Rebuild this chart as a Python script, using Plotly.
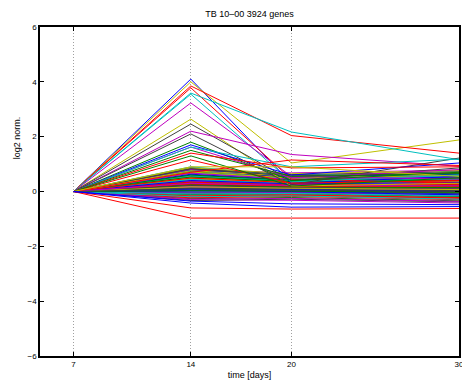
import plotly.graph_objects as go

# time points (days)
days = [7, 14, 20, 30]

# Prominent (large response) genes: log2 norm. values at days 14, 20, 30 (day 7 = 0)
hi14 = [4.10, 4.00, 3.85, 3.78, 3.59, 3.55, 3.23, 2.64, 2.46, 2.20, 2.10, 1.80, 1.70, 1.62, 1.62, 1.50, 1.40, 0.70, 1.15, 1.30, 0.90, -0.97, -0.60, -0.42, -0.35]
hi20 = [0.30, 1.04, 2.04, 0.45, 2.17, 0.35, 0.55, 0.20, 0.40, 1.35, 0.25, 0.40, 0.60, 0.50, 0.90, 0.55, 0.86, 1.15, 0.30, 0.20, 0.90, -0.97, -0.64, -0.57, -0.45]
hi30 = [0.55, 1.88, 1.40, 0.30, 1.16, 0.60, 0.45, 0.30, 0.86, 0.92, 1.22, 0.70, 1.04, 0.80, 1.18, 0.65, 0.90, 0.95, 0.40, 0.50, 0.55, -0.97, -0.62, -0.55, -0.48]
hi_colors = ["b", "y", "r", "r", "c", "c", "m", "y", "k", "m", "k", "g", "b", "m", "c", "g", "r", "r", "r", "g", "y", "r", "r", "b", "b"]

# Background band of genes
bg14 = [0.88, 0.12, -0.21, 0.45, 0.82, 0.33, 0.05, 0.61, -0.08, 0.27, 0.74, -0.30,
        0.18, 0.52, 0.02, 0.85, 0.39, -0.14, 0.66, 0.24, 0.09, 0.79, -0.26, 0.48,
        0.14, 0.57, -0.04, 0.31, 0.70, 0.21, -0.18, 0.43, 0.80, 0.07, 0.36, 0.63,
        -0.11, 0.26, 0.90, 0.16, 0.50, -0.33, 0.04, 0.72, 0.29, 0.58, -0.06, 0.41,
        0.84, 0.11, 0.35, -0.23, 0.68, 0.19, 0.47, 0.01, 0.77, 0.25, -0.16, 0.55,
        0.38, 0.86, 0.13, -0.02, 0.60, 0.28, 0.44, -0.28, 0.76, 0.22, 0.08, 0.53,
        0.34, -0.09, 0.67, 0.17, 0.83, 0.40, 0.03, 0.49, -0.19, 0.30, 0.71, 0.10]
bg20 = [0.45, 0.10, -0.15, 0.30, 0.52, 0.22, 0.02, 0.40, -0.05, 0.18, 0.60, -0.32,
        0.12, 0.35, 0.05, 0.48, 0.26, -0.10, 0.44, 0.15, 0.08, 0.55, -0.22, 0.33,
        0.10, 0.38, -0.02, 0.20, 0.46, 0.16, -0.14, 0.28, 0.68, 0.04, 0.25, 0.42,
        -0.08, 0.19, 0.58, 0.11, 0.34, -0.28, 0.00, 0.50, 0.21, 0.37, -0.04, 0.27,
        0.62, 0.07, 0.24, -0.18, 0.47, 0.13, 0.31, 0.03, 0.53, 0.17, -0.12, 0.39,
        0.26, 0.65, 0.09, -0.01, 0.41, 0.20, 0.29, -0.25, 0.56, 0.14, 0.06, 0.36,
        0.23, -0.07, 0.45, 0.12, 0.57, 0.28, 0.01, 0.32, -0.16, 0.22, 0.49, 0.05]
bg30 = [0.55, 0.05, -0.25, 0.38, 0.70, 0.15, -0.05, 0.48, -0.12, 0.22, 0.62, -0.42,
        0.08, 0.44, -0.02, 0.58, 0.30, -0.20, 0.52, 0.18, 0.02, 0.66, -0.34, 0.40,
        0.04, 0.47, -0.10, 0.26, 0.60, 0.12, -0.22, 0.35, 0.78, -0.04, 0.28, 0.50,
        -0.18, 0.16, 0.74, 0.06, 0.42, -0.38, -0.08, 0.56, 0.24, 0.45, -0.14, 0.32,
        0.72, 0.00, 0.20, -0.30, 0.54, 0.10, 0.36, -0.06, 0.64, 0.14, -0.24, 0.46,
        0.30, 0.76, 0.03, -0.12, 0.49, 0.19, 0.34, -0.36, 0.68, 0.09, -0.01, 0.41,
        0.27, -0.16, 0.53, 0.07, 0.67, 0.33, -0.03, 0.39, -0.28, 0.21, 0.59, 0.00]

x_ticks = [7, 14, 20, 30]
y_ticks = [-6, -4, -2, 0, 2, 4, 6]

palette = {
    "b": "rgb(0,0,255)", "g": "rgb(0,128,0)", "r": "rgb(255,0,0)",
    "c": "rgb(0,191,191)", "m": "rgb(191,0,191)", "y": "rgb(191,191,0)",
    "k": "rgb(64,64,64)",
}
cycle = ["b", "g", "r", "c", "m", "y", "k"]

fig = go.Figure()
for i, (a, b, c) in enumerate(zip(bg14, bg20, bg30)):
    fig.add_trace(go.Scatter(x=days, y=[0, a, b, c], mode="lines",
                             line=dict(color=palette[cycle[i % 7]], width=1),
                             showlegend=False, hoverinfo="skip"))
for a, b, c, col in zip(hi14, hi20, hi30, hi_colors):
    fig.add_trace(go.Scatter(x=days, y=[0, a, b, c], mode="lines",
                             line=dict(color=palette[col], width=1),
                             showlegend=False, hoverinfo="skip"))

font_name = "Liberation Sans, Arial, sans-serif"
axis_font = dict(family=font_name, size=8, color="black")
fig.update_layout(
    width=462, height=387,
    margin=dict(l=40, r=3, t=27, b=31),
    paper_bgcolor="white", plot_bgcolor="white",
    title=dict(text="TB 10\u201300 3924 genes", x=0.5, xref="paper", xanchor="center",
               y=1 - 14 / 387, yref="container", yanchor="middle",
               font=dict(family=font_name, size=9, color="black")),
    xaxis=dict(range=[5, 30], tickvals=x_ticks, ticks="inside", ticklen=4, tickcolor="black",
               showline=True, linecolor="black", linewidth=1.5, mirror="ticks",
               showgrid=True, gridcolor="rgb(160,160,160)", griddash="1px,2px", gridwidth=1,
               zeroline=False, tickfont=axis_font, automargin=False,
               ticklabeloverflow="allow",
               title=dict(text="time [days]", standoff=3,
                          font=dict(family=font_name, size=9, color="black"))),
    yaxis=dict(range=[-6, 6], tickvals=y_ticks, ticks="inside", ticklen=4, tickcolor="black",
               showline=True, linecolor="black", linewidth=1.5, mirror="ticks",
               showgrid=False, zeroline=False, tickfont=axis_font, automargin=False),
    annotations=[dict(text="log2 norm.", xref="paper", yref="paper",
                      x=-0.055, y=0.665, xanchor="center", yanchor="middle",
                      textangle=-90, showarrow=False,
                      font=dict(family=font_name, size=9, color="black"))],
)

fig.write_html("out.html")
